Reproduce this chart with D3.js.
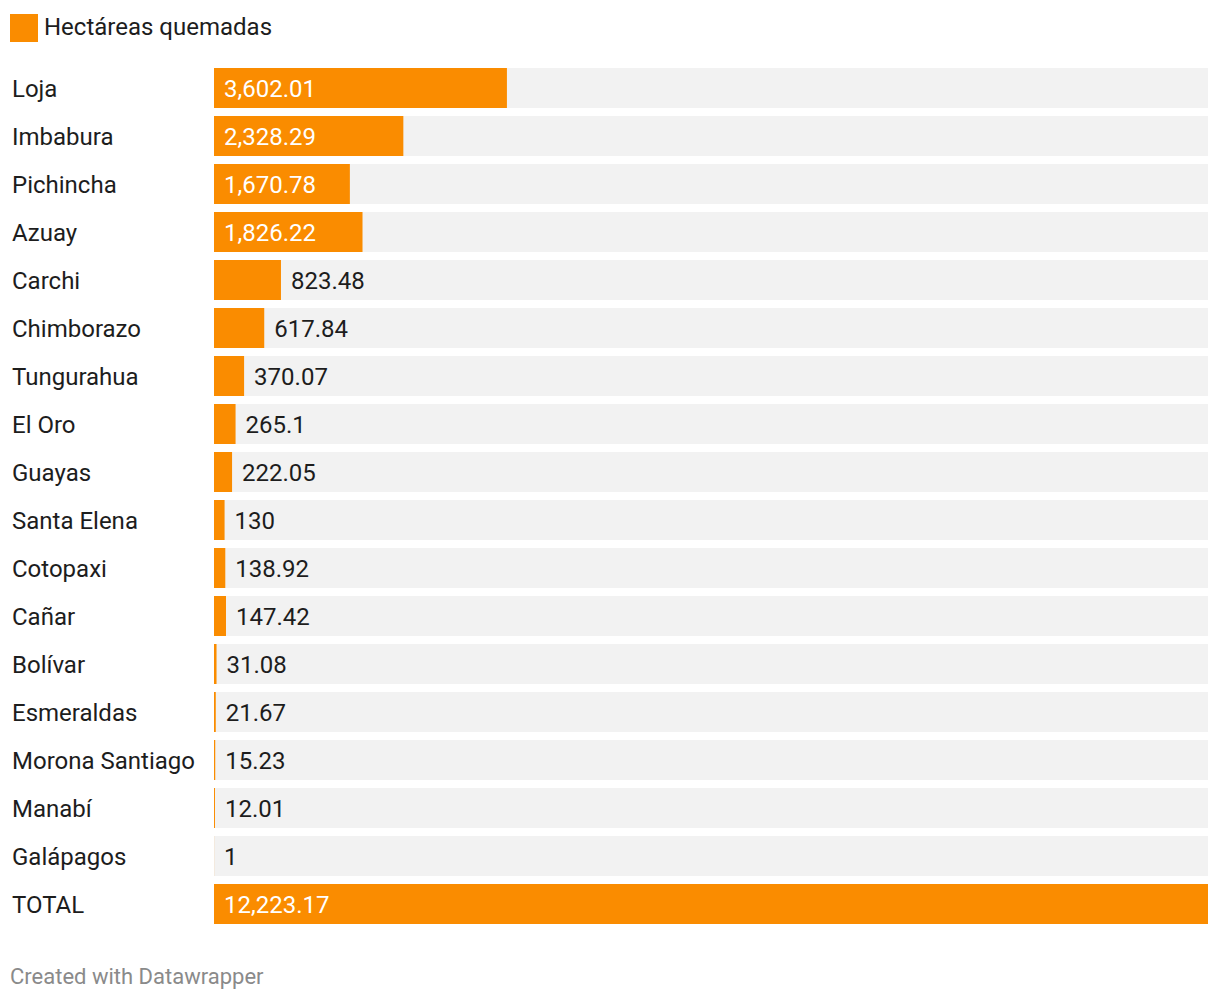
<!DOCTYPE html>
<html><head><meta charset="utf-8">
<script src="https://cdn.jsdelivr.net/npm/d3@7"></script>
<style>body{margin:0;background:#fff;font-family:Roboto,sans-serif;}</style>
</head><body>
<svg id="c" width="1220" height="1002"></svg>
<script>
const categories = ["Loja","Imbabura","Pichincha","Azuay","Carchi","Chimborazo","Tungurahua","El Oro","Guayas","Santa Elena","Cotopaxi","Cañar","Bolívar","Esmeraldas","Morona Santiago","Manabí","Galápagos","TOTAL"];
const values = [3602.01,2328.29,1670.78,1826.22,823.48,617.84,370.07,265.1,222.05,130,138.92,147.42,31.08,21.67,15.23,12.01,1,12223.17];
const labels = ["3,602.01","2,328.29","1,670.78","1,826.22","823.48","617.84","370.07","265.1","222.05","130","138.92","147.42","31.08","21.67","15.23","12.01","1","12,223.17"];
const seriesName = "Hectáreas quemadas";

const svg = d3.select("#c");
const orange = "#fa8c00";
const x = d3.scaleLinear().domain([0, d3.max(values)]).range([214, 1208]);
const y = d3.scaleBand().domain(categories).range([68, 68 + 48*categories.length - 8]).paddingInner(8/48).paddingOuter(0);
const fs = 24;

svg.append("rect").attr("x",10).attr("y",14).attr("width",28).attr("height",28).attr("fill",orange);
svg.append("text").attr("x",44).attr("y",34.5).attr("font-size",fs).attr("fill","#1d1d1d").text(seriesName);

const g = svg.append("g");
const rows = g.selectAll("g.row").data(categories).join("g").attr("class","row");
rows.append("rect").attr("x",x(0)).attr("y",d=>y(d)).attr("width",x.range()[1]-x(0)).attr("height",y.bandwidth()).attr("fill","#f2f2f2");
rows.append("rect").attr("x",x(0)).attr("y",d=>y(d)).attr("width",(d,i)=>x(values[i])-x(0)).attr("height",y.bandwidth()).attr("fill",orange);
rows.append("text").attr("x",12).attr("y",d=>y(d)+y.bandwidth()/2+8.5).attr("font-size",fs).attr("fill","#1d1d1d").text(d=>d);
rows.append("text")
  .attr("x",(d,i)=>{const w=x(values[i])-x(0); return w>130? x(0)+10 : x(values[i])+10;})
  .attr("y",d=>y(d)+y.bandwidth()/2+8.5).attr("font-size",fs)
  .attr("fill",(d,i)=> (x(values[i])-x(0))>130 ? "#fff" : "#1d1d1d")
  .text((d,i)=>labels[i]);

svg.append("text").attr("x",10).attr("y",984).attr("font-size",22).attr("fill","#8a8a8a").text("Created with Datawrapper");
</script>
</body></html>
